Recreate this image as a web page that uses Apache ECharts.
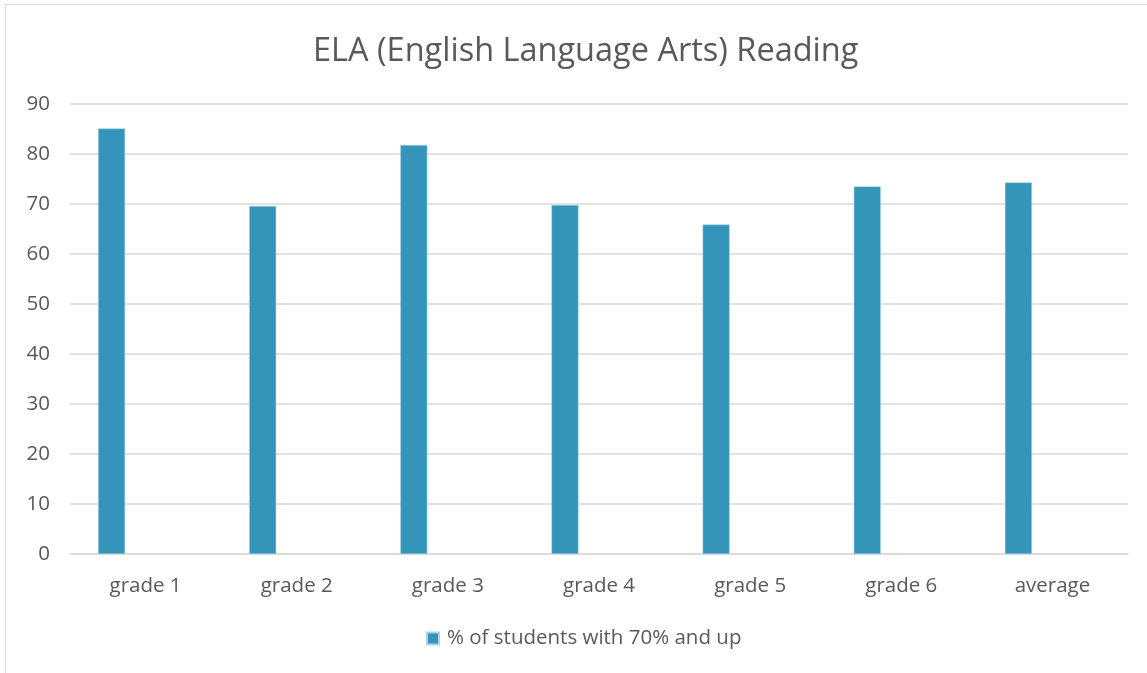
<!DOCTYPE html>
<html>
<head>
<meta charset="utf-8">
<script src="https://cdn.jsdelivr.net/npm/echarts@6/dist/echarts.min.js"></script>
<style>
html,body{margin:0;padding:0;background:#fff;}
#chart{width:1147px;height:673px;}
</style>
</head>
<body>
<div id="chart"></div>
<script>
// Reading results per grade
const categories = ['grade 1', 'grade 2', 'grade 3', 'grade 4', 'grade 5', 'grade 6', 'average'];
const seriesName = '% of students with 70% and up';
const values = [85.1, 69.6, 81.8, 69.8, 65.9, 73.5, 74.3];
const yTicks = { min: 0, max: 90, interval: 10 };

const textColor = '#595959';
const font = '"Open Sans", "Noto Sans", sans-serif';

const chart = echarts.init(document.getElementById('chart'));
chart.setOption({
  backgroundColor: '#fff',
  animation: false,
  title: {
    text: 'ELA (English Language Arts) Reading',
    left: 308,
    top: 30,
    textStyle: { color: textColor, fontFamily: font, fontWeight: 'normal', fontSize: 32.5 }
  },
  graphic: [{
    type: 'rect',
    shape: { x: 5.5, y: 4.5, width: 1160, height: 700 },
    style: { fill: 'none', stroke: '#d9d9d9', lineWidth: 1 },
    silent: true
  }],
  legend: {
    data: [seriesName],
    bottom: 19,
    left: 421,
    itemWidth: 12,
    itemHeight: 12,
    itemGap: 10,
    icon: 'rect',
    textStyle: { color: textColor, fontFamily: font, fontSize: 20.5, padding: [0, 0, 0, 3] }
  },
  grid: { left: 70, right: 19, top: 104, bottom: 119, containLabel: false },
  xAxis: {
    type: 'category',
    data: categories,
    axisTick: { show: false },
    axisLine: { lineStyle: { color: '#d9d9d9', width: 1.5 } },
    axisLabel: { color: textColor, fontFamily: font, fontSize: 20.5, margin: 22 }
  },
  yAxis: {
    type: 'value',
    min: yTicks.min, max: yTicks.max, interval: yTicks.interval,
    axisLine: { show: false },
    axisTick: { show: false },
    splitLine: { lineStyle: { color: '#d9d9d9', width: 1.5 } },
    axisLabel: { color: textColor, fontFamily: font, fontSize: 20.5, margin: 20 }
  },
  series: [
    {
      name: seriesName,
      type: 'bar',
      data: values,
      barWidth: 27,
      barGap: '152%',
      itemStyle: { color: '#3494BA', borderColor: '#a9d4e6', borderWidth: 0.5 }
    },
    {
      name: 'empty',
      type: 'bar',
      data: categories.map(() => null),
      barWidth: 27
    }
  ]
});
</script>
</body>
</html>
